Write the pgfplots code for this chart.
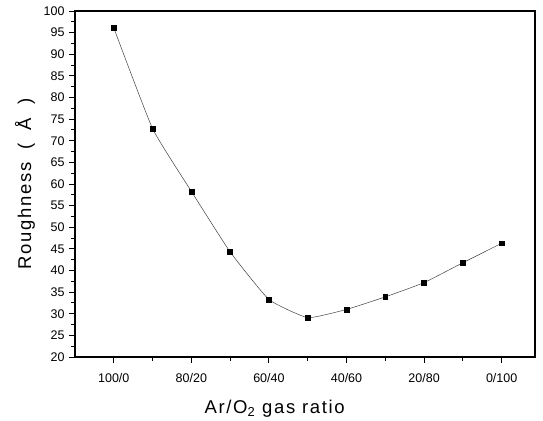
\documentclass[border=0pt]{standalone}
\usepackage{fontspec}
\setmainfont{Liberation Sans}
\newfontfamily\labelfont[LetterSpace=9]{Liberation Sans}
\usepackage{pgfplots}
\pgfplotsset{compat=1.18}

\begin{document}
\begin{tikzpicture}
% fixed page frame around the axis rectangle
\useasboundingbox (-75bp,-64bp) rectangle (468bp,357bp);
\begin{axis}[
  scale only axis,
  width=460bp, height=346bp,
  anchor=south west, at={(0,0)},
  xmin=-1, xmax=10.86,
  ymin=20, ymax=100,
  xtick={0,2,...,10},
  xticklabels={100/0,80/20,60/40,40/60,20/80,0/100},
  minor xtick={1,3,5,7,9},
  ytick={20,25,...,100},
  minor y tick num=1,
  tick pos=left,
  tick align=outside,
  major tick length=6bp,
  minor tick length=3.5bp,
  every tick/.style={black, line width=0.9bp},
  axis line style={line width=1.2bp},
  /pgf/number format/assume math mode=true,
  ticklabel style={font=\fontsize{12.5bp}{14bp}\selectfont},
  xticklabel style={yshift=-7bp},
  yticklabel style={xshift=-1bp},
  xlabel={Ar/O$_{\mathrm{2}}$ gas ratio},
  ylabel={Roughness\hspace{0.7em}(\hspace{0.7em}Å\hspace{0.7em})},
  xlabel style={font=\labelfont\fontsize{18.5bp}{20bp}\selectfont,
    at={(axis description cs:0.434,-0.162)}, anchor=base},
  ylabel style={font=\labelfont\fontsize{18.5bp}{20bp}\selectfont,
    at={(axis description cs:-0.109,0.5)}, anchor=center},
]
\addplot[smooth, tension=0.25, line width=0.5bp, black!75,
  mark=square*, mark size=2.4bp,
  mark options={solid, fill=black, draw=black}]
  coordinates {
  (0,96.1) (1,72.8) (2,58.3) (3,44.3) (4,33.3) (5,29.1)
  (6,31.0) (7,33.9) (8,37.2) (9,41.8) (10,46.3)
};
\end{axis}
\end{tikzpicture}
\end{document}
